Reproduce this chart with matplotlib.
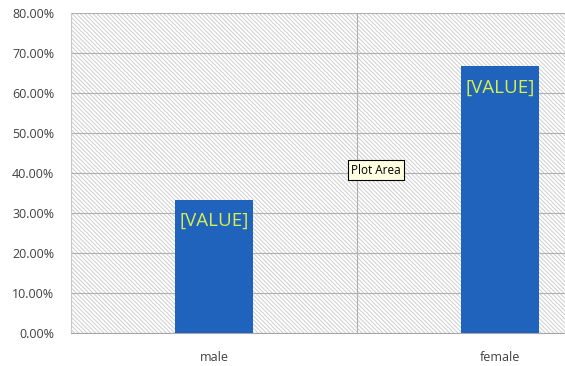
import matplotlib.pyplot as plt
from matplotlib.patches import Rectangle
from matplotlib.ticker import PercentFormatter

categories = ['male', 'female']
shares = [0.3333, 0.6667]
label_text = '[VALUE]'
y_ticks = [0.0, 0.1, 0.2, 0.3, 0.4, 0.5, 0.6, 0.7, 0.8]

plt.rcParams['font.family'] = ['Open Sans', 'DejaVu Sans']
plt.rcParams['hatch.color'] = '#cdcdcd'
plt.rcParams['hatch.linewidth'] = 0.7

fig = plt.figure(figsize=(5.65, 3.66), dpi=100)
fig.patch.set_facecolor('white')
# plot area runs past the right edge, like the cropped screenshot
ax = fig.add_axes([71 / 565, 33 / 366, 572 / 565, 320 / 366])

# hatched plot area background
ax.add_patch(Rectangle((0, 0), 1, 1, transform=ax.transAxes, facecolor='white',
                       edgecolor='#cdcdcd', hatch='\\' * 8, linewidth=0, zorder=0))

x = list(range(len(categories)))
ax.bar(x, shares, width=0.273, color='#1f63bd', zorder=3)

for xi, v in zip(x, shares):
    ax.text(xi, v - 0.03, label_text, ha='center', va='top', fontsize=13.5,
            color='#d8ee4c', zorder=4)

ax.set_xlim(-0.5, 1.5)
ax.set_ylim(0, 0.8)
ax.set_yticks(y_ticks)
ax.yaxis.set_major_formatter(PercentFormatter(1.0, decimals=2))
ax.set_xticks(x)
ax.set_xticklabels(categories)
ax.tick_params(axis='both', length=0, labelsize=9, labelcolor='#404040')
ax.tick_params(axis='y', pad=12)
ax.tick_params(axis='x', pad=13)

ax.grid(axis='y', color='#b0b0b0', linewidth=0.8, zorder=1)
ax.axvline(0.5, color='#b0b0b0', linewidth=0.8, zorder=1)
for s in ['top', 'right']:
    ax.spines[s].set_visible(False)
ax.spines['left'].set_color('#c8c8c8')
ax.spines['bottom'].set_color('#a8a8a8')
ax.spines['left'].set_linewidth(0.8)
ax.spines['bottom'].set_linewidth(0.8)

# tooltip left over from the screenshot
fig.text(376 / 565, 1 - 170 / 366, 'Plot Area', ha='center', va='center', fontsize=8.5,
         color='black',
         bbox=dict(boxstyle='square,pad=0.3', facecolor='#ffffe1', edgecolor='black',
                   linewidth=0.8))

fig.savefig('out.png', dpi=100)
